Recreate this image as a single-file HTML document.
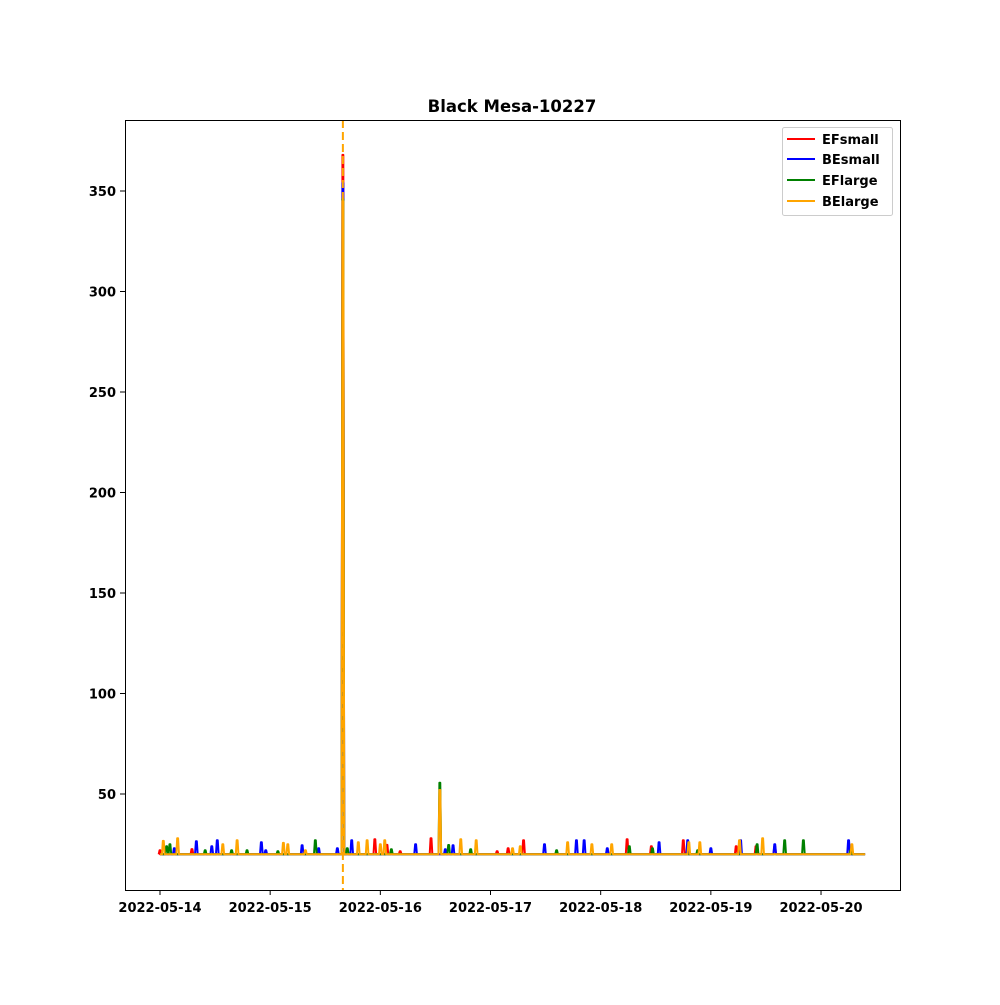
<!DOCTYPE html>
<html><head><meta charset="utf-8"><style>
html,body{margin:0;padding:0;background:#fff;}
svg text{font-family:"DejaVu Sans","Liberation Sans",sans-serif;font-weight:bold;}
</style></head><body>
<svg id="chart" width="1000" height="1000" xmlns="http://www.w3.org/2000/svg">
<rect x="0" y="0" width="1000" height="1000" fill="#fff"/>
<text x="512" y="112" text-anchor="middle" font-size="16.5">Black Mesa-10227</text>
<g id="plot"></g>
<rect x="125.5" y="120.5" width="775" height="770" fill="none" stroke="#000" stroke-width="1"/>
<g id="axes"></g>
<g>
<rect x="782.5" y="127.5" width="110" height="88" fill="#fff" stroke="#ccc" rx="2"/>
<line x1="787" y1="139" x2="815" y2="139" stroke="red" stroke-width="2"/>
<text x="822" y="144" font-size="13">EFsmall</text>
<line x1="787" y1="159" x2="815" y2="159" stroke="blue" stroke-width="2"/>
<text x="822" y="164" font-size="13">BEsmall</text>
<line x1="787" y1="180" x2="815" y2="180" stroke="green" stroke-width="2"/>
<text x="822" y="185" font-size="13">EFlarge</text>
<line x1="787" y1="201" x2="815" y2="201" stroke="orange" stroke-width="2"/>
<text x="822" y="206" font-size="13">BElarge</text>
</g>
</svg>
<script>
const xTickLabels = ["2022-05-14","2022-05-15","2022-05-16","2022-05-17","2022-05-18","2022-05-19","2022-05-20"];
const yTicks = [50,100,150,200,250,300,350];
const baseline = 20;
const endDay = 6.4;
const eventDay = 1.66;
const efSmallDays = [0.0,0.29,1.66,1.95,2.06,2.18,2.46,3.06,3.16,3.30,4.24,4.46,4.75,5.23,5.41,5.58];
const efSmallVals = [22,22.6,368,27.5,24.7,21.5,28,21.5,23,27,27.5,24,27,24,24,24];
const beSmallDays = [0.13,0.33,0.47,0.52,0.92,0.96,1.29,1.44,1.61,1.66,1.74,2.32,2.59,2.66,3.49,3.78,3.85,4.06,4.53,4.79,5.0,5.27,5.58,6.25];
const beSmallVals = [23,26.5,24,27,26,22,24.5,23,23,354,27,25,22.5,24.5,25,27,27,23,26,27,23,27,25,27];
const efLargeDays = [0.06,0.09,0.41,0.65,0.79,1.07,1.41,1.66,1.70,2.10,2.54,2.62,2.82,3.60,4.26,4.47,4.88,5.42,5.67,5.84,6.27];
const efLargeVals = [24,25,22,22,22,21.5,27,346,23,22.5,55.6,24.6,22.5,22,24,23,22,25,27,27,22];
const beLargeDays = [0.03,0.16,0.57,0.70,1.12,1.16,1.32,1.66,1.80,1.88,2.00,2.04,2.54,2.73,2.87,3.20,3.27,3.70,3.92,4.10,4.80,4.90,5.26,5.47,6.28];
const beLargeVals = [26.7,28,25,27,25.7,25,22,345,26,27,25,27,52,27.5,27,23,24,26,25,25,26,26,27,28,25];

const X0 = 160, PX_DAY = 110.17, Y0 = 894.5, PX_UNIT = 2.01;
function xs(d){return X0 + d*PX_DAY;}
function ys(v){return Y0 - v*PX_UNIT;}
const NS = "http://www.w3.org/2000/svg";
const plot = document.getElementById('plot');
const axes = document.getElementById('axes');

function drawSeries(days, vals, color, name){
  const pts = [[0,baseline]];
  for(let i=0;i<days.length;i++){
    pts.push([days[i]-0.012,baseline]);
    pts.push([days[i]-0.004,vals[i]]);
    pts.push([days[i]+0.004,vals[i]]);
    pts.push([days[i]+0.012,baseline]);
  }
  pts.push([endDay,baseline]);
  pts.sort((a,b)=>a[0]-b[0]);
  const pl = document.createElementNS(NS,'polyline');
  pl.setAttribute('points', pts.map(p=>xs(p[0]).toFixed(2)+','+ys(p[1]).toFixed(2)).join(' '));
  pl.setAttribute('fill','none');
  pl.setAttribute('stroke',color);
  pl.setAttribute('stroke-width','2');
  pl.setAttribute('stroke-linejoin','round');
  
  
  plot.appendChild(pl);
}
drawSeries(efSmallDays, efSmallVals, 'red', 'series-efsmall');
drawSeries(beSmallDays, beSmallVals, 'blue', 'series-besmall');
drawSeries(efLargeDays, efLargeVals, 'green', 'series-eflarge');
drawSeries(beLargeDays, beLargeVals, 'orange', 'series-belarge');

const vl = document.createElementNS(NS,'line');
vl.setAttribute('x1', xs(eventDay)); vl.setAttribute('x2', xs(eventDay));
vl.setAttribute('y1', 120); vl.setAttribute('y2', 890);
vl.setAttribute('stroke','orange'); vl.setAttribute('stroke-width','2');
vl.setAttribute('stroke-dasharray','8,4');


plot.appendChild(vl);

xTickLabels.forEach((lab,i)=>{
  const x = xs(i);
  const t = document.createElementNS(NS,'line');
  t.setAttribute('x1',x);t.setAttribute('x2',x);t.setAttribute('y1',890);t.setAttribute('y2',895);
  t.setAttribute('stroke','#000');
  
  
  axes.appendChild(t);
  const tx = document.createElementNS(NS,'text');
  tx.setAttribute('x',x);tx.setAttribute('y',912);tx.setAttribute('text-anchor','middle');tx.setAttribute('font-size','13');
  tx.textContent = lab;
  
  
  axes.appendChild(tx);
});
yTicks.forEach(v=>{
  const y = ys(v);
  const t = document.createElementNS(NS,'line');
  t.setAttribute('x1',120);t.setAttribute('x2',125);t.setAttribute('y1',y);t.setAttribute('y2',y);
  t.setAttribute('stroke','#000');
  
  
  axes.appendChild(t);
  const tx = document.createElementNS(NS,'text');
  tx.setAttribute('x',116);tx.setAttribute('y',y+5);tx.setAttribute('text-anchor','end');tx.setAttribute('font-size','13');
  tx.textContent = v;
  
  
  axes.appendChild(tx);
});
</script>
</body></html>
